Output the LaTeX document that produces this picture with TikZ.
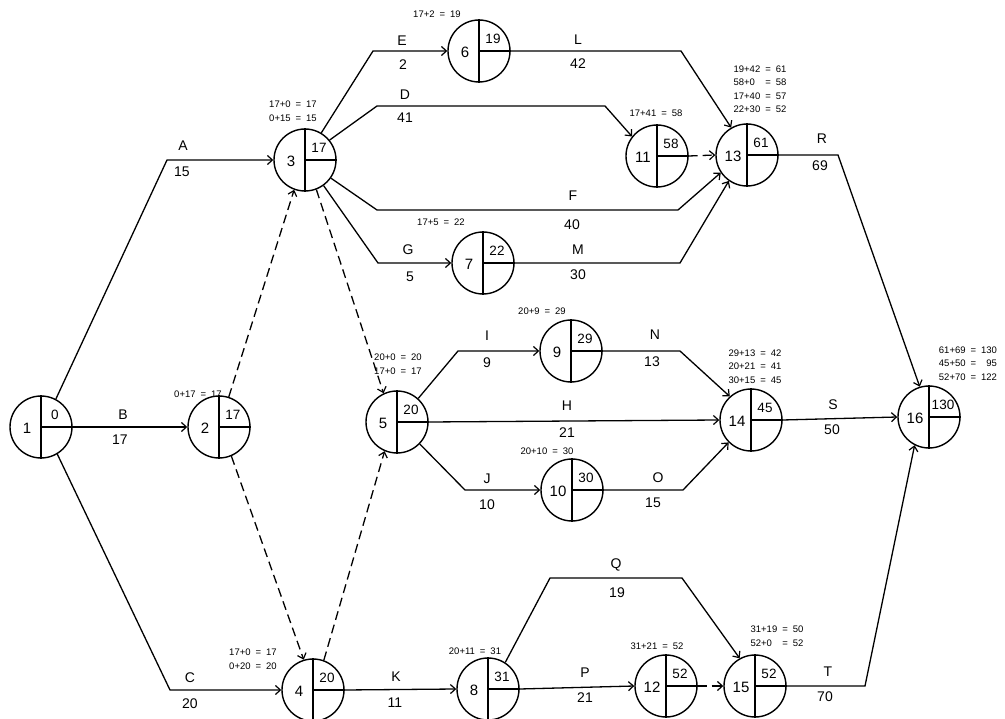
\documentclass[tikz,border=0pt]{standalone}
\usepackage{fontspec}
\setmainfont{Liberation Sans}
\usetikzlibrary{arrows.meta,calc}

\tikzset{
 pn/.style={circle,draw,line width=1.4pt,minimum size=62pt,inner sep=0pt},
 lbl/.style={font=\fontsize{14}{16}\selectfont,inner sep=0pt},
 numt/.style={font=\fontsize{15}{17}\selectfont,inner sep=0pt},
 valt/.style={font=\fontsize{13.5}{16}\selectfont,inner sep=0pt},
 ann/.style={font=\fontsize{9.5}{13.5}\selectfont,inner sep=0pt},
 arr/.style={line width=1.3pt,-{Straight Barb[length=5pt,width=9pt,line width=1.2pt]}},
 darr/.style={arr,dash pattern=on 9pt off 5pt},
}

\newcommand{\pnode}[4]{%
  \node[pn] (#1) at (#2) {};
  \draw[line width=1.4pt] (#1.north) -- (#1.south) (#1.center) -- (#1.east);
  \node[numt] at ($(#1.center)+(-14,1)$) {#3};
  \node[valt] at ($(#1.center)+(14,-12)$) {#4};
}
\newcommand{\eqs}[1]{\begin{tabular}{@{}l@{\hspace{5pt}=\hspace{5pt}}r@{}}#1\end{tabular}}

\begin{document}
\begin{tikzpicture}[x=1pt,y=-1pt]
\useasboundingbox (0,0) rectangle (1005,719);
\fill[white] (0,0) rectangle (1005,719);

% nodes
\pnode{n1}{41,427}{1}{0}
\pnode{n2}{219,427}{2}{17}
\pnode{n3}{305,160}{3}{17}
\pnode{n4}{313,690}{4}{20}
\pnode{n5}{397,422}{5}{20}
\pnode{n6}{479,51}{6}{19}
\pnode{n7}{483,263}{7}{22}
\pnode{n8}{488,689}{8}{31}
\pnode{n9}{571,351}{9}{29}
\pnode{n10}{572,490}{10}{30}
\pnode{n11}{657,156}{11}{58}
\pnode{n12}{666,686}{12}{52}
\pnode{n13}{747,155}{13}{61}
\pnode{n14}{751,420}{14}{45}
\pnode{n15}{755,686}{15}{52}
\pnode{n16}{929,417}{16}{130}

% connectors
\draw[arr] (n1.62) -- (167,160) -- (n3.west);
\draw[arr] (n1.east) -- (n2.west);
\draw[arr] (n1.-59) -- (170,690) -- (n4.west);
\draw[darr] (n2.72) -- (n3.-110);
\draw[darr] (n2.-67) -- (n4.107);
\draw[darr] (n3.-69) -- (n5.115);
\draw[darr] (n4.70) -- (n5.-113);
\draw[arr] (n3.59) -- (373,51) -- (n6.west);
\draw[arr] (n3.39) -- (377,106) -- (605,106) -- (n11.142);
\draw[arr] (n3.-35) -- (377,210) -- (678,210) -- (n13.-146);
\draw[arr] (n3.-54) -- (378,263) -- (n7.west);
\draw[arr] (n6.east) -- (681,51) -- (n13.120);
\draw[arr] (n7.east) -- (680,263) -- (n13.-125);
\draw[darr] (n11.east) -- (n13.west);
\draw[arr] (n13.east) -- (838,155) -- (n16.107);
\draw[arr] (n5.48) -- (458,351) -- (n9.west);
\draw[arr] (n5.east) -- (n14.west);
\draw[arr] (n5.-44) -- (465,490) -- (n10.west);
\draw[arr] (n9.east) -- (680,351) -- (n14.132);
\draw[arr] (n10.east) -- (683,490) -- (n14.-135);
\draw[arr] (n14.east) -- (n16.west);
\draw[arr] (n4.east) -- (n8.west);
\draw[arr] (n8.east) -- (n12.west);
\draw[arr] (n8.57) -- (550,578) -- (682,578) -- (n15.119);
\draw[darr] (n12.east) -- (n15.west);
\draw[arr] (n15.east) -- (865,686) -- (n16.-117);

% activity labels
\node[lbl] at (183,146) {A};  \node[lbl] at (182,172) {15};
\node[lbl] at (123,415) {B};  \node[lbl] at (120,440) {17};
\node[lbl] at (190,678) {C};  \node[lbl] at (190,704) {20};
\node[lbl] at (405,95) {D};   \node[lbl] at (405,118) {41};
\node[lbl] at (402,41) {E};   \node[lbl] at (403,65) {2};
\node[lbl] at (573,196) {F};  \node[lbl] at (572,225) {40};
\node[lbl] at (408,250) {G};  \node[lbl] at (410,277) {5};
\node[lbl] at (567,406) {H};  \node[lbl] at (567,433) {21};
\node[lbl] at (487,336) {I};  \node[lbl] at (487,363) {9};
\node[lbl] at (487,479) {J};  \node[lbl] at (487,505) {10};
\node[lbl] at (396,677) {K};  \node[lbl] at (395,703) {11};
\node[lbl] at (578,40) {L};   \node[lbl] at (578,64) {42};
\node[lbl] at (578,250) {M};  \node[lbl] at (578,275) {30};
\node[lbl] at (655,335) {N};  \node[lbl] at (652,362) {13};
\node[lbl] at (658,478) {O};  \node[lbl] at (653,503) {15};
\node[lbl] at (585,673) {P};  \node[lbl] at (585,698) {21};
\node[lbl] at (616,565) {Q};  \node[lbl] at (617,593) {19};
\node[lbl] at (822,139) {R};  \node[lbl] at (820,166) {69};
\node[lbl] at (833,405) {S};  \node[lbl] at (832,430) {50};
\node[lbl] at (828,672) {T};  \node[lbl] at (825,697) {70};

% event computations
\node[ann] at (437,15) {\eqs{17+2 & 19}};
\node[ann] at (293,112) {\eqs{17+0 & 17\\ 0+15 & 15}};
\node[ann] at (656,114) {\eqs{17+41 & 58}};
\node[ann] at (760,90) {\eqs{19+42 & 61\\ 58+0 & 58\\ 17+40 & 57\\ 22+30 & 52}};
\node[ann] at (441,223) {\eqs{17+5 & 22}};
\node[ann] at (542,312) {\eqs{20+9 & 29}};
\node[ann] at (398,365) {\eqs{20+0 & 20\\ 17+0 & 17}};
\node[ann] at (547,452) {\eqs{20+10 & 30}};
\node[ann] at (755,367) {\eqs{29+13 & 42\\ 20+21 & 41\\ 30+15 & 45}};
\node[ann] at (968,364) {\eqs{61+69 & 130\\ 45+50 & 95\\ 52+70 & 122}};
\node[ann] at (198,395) {\eqs{0+17 & 17}};
\node[ann] at (253,660) {\eqs{17+0 & 17\\ 0+20 & 20}};
\node[ann] at (475,652) {\eqs{20+11 & 31}};
\node[ann] at (657,647) {\eqs{31+21 & 52}};
\node[ann] at (777,637) {\eqs{31+19 & 50\\ 52+0 & 52}};
\end{tikzpicture}
\end{document}
